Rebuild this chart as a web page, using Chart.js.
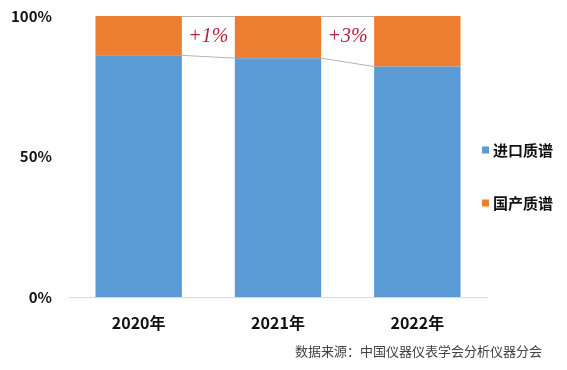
<!DOCTYPE html>
<html>
<head>
<meta charset="utf-8">
<script src="https://cdn.jsdelivr.net/npm/chart.js@4"></script>
<style>
  html, body { margin: 0; padding: 0; background: #fff; }
  #wrap { width: 567px; height: 370px; position: relative; }
</style>
</head>
<body>
<div id="wrap"><canvas id="c"></canvas></div>
<script>
const years = ["2020年", "2021年", "2022年"];
const importShare = [86, 85, 82];
const domesticShare = [14, 15, 18];
const yTicks = [0, 50, 100];
const seriesNames = ["进口质谱", "国产质谱"];
const sourceNote = "数据来源：中国仪器仪表学会分析仪器分会";

const CJK = "'Noto Sans CJK SC', 'Noto Sans', sans-serif";

// connector lines between bars + change labels, legend and source note
const decor = {
  id: "decor",
  afterDatasetsDraw(chart) {
    const ctx = chart.ctx;
    const y = chart.scales.y;
    const meta = chart.getDatasetMeta(0);
    ctx.save();
    ctx.strokeStyle = "#B4B4B4";
    ctx.lineWidth = 1;
    for (let i = 0; i < meta.data.length - 1; i++) {
      const a = meta.data[i], b = meta.data[i + 1];
      const x1 = a.x + a.width / 2, x2 = b.x - b.width / 2;
      ctx.beginPath();
      ctx.moveTo(x1, y.getPixelForValue(importShare[i]));
      ctx.lineTo(x2, y.getPixelForValue(importShare[i + 1]));
      ctx.moveTo(x1, y.getPixelForValue(100) + 0.5);
      ctx.lineTo(x2, y.getPixelForValue(100) + 0.5);
      ctx.stroke();
      const diff = importShare[i] - importShare[i + 1];
      ctx.fillStyle = "#B0243A";
      ctx.font = "italic 20px 'Liberation Serif', 'DejaVu Serif', serif";
      ctx.textAlign = "center";
      ctx.textBaseline = "middle";
      ctx.fillText("+" + diff + "%", (x1 + x2) / 2, y.getPixelForValue(92.5));
    }
    ctx.restore();
  },
  afterDraw(chart) {
    const ctx = chart.ctx;
    const area = chart.chartArea;
    const colors = chart.data.datasets.map(d => d.backgroundColor);
    ctx.save();
    ctx.font = "bold 15px " + CJK;
    ctx.textBaseline = "middle";
    ctx.textAlign = "left";
    const ys = [150, 203];
    seriesNames.forEach((name, i) => {
      ctx.fillStyle = colors[i];
      ctx.fillRect(area.right - 5, ys[i] - 3.5, 7, 7);
      ctx.fillStyle = "#111";
      ctx.fillText(name, area.right + 6, ys[i]);
    });
    ctx.font = "13px " + CJK;
    ctx.fillStyle = "#404040";
    ctx.textAlign = "right";
    ctx.fillText(sourceNote, 542, 351);
    ctx.restore();
  }
};

new Chart(document.getElementById("c"), {
  type: "bar",
  data: {
    labels: years,
    datasets: [
      { label: seriesNames[0], data: importShare, backgroundColor: "#5B9BD5" },
      { label: seriesNames[1], data: domesticShare, backgroundColor: "#ED7D31" },
    ],
  },
  options: {
    responsive: true,
    maintainAspectRatio: false,
    animation: false,
    devicePixelRatio: 1,
    layout: { padding: { top: 16, right: 80, bottom: 0, left: 0 } },
    datasets: { bar: { barPercentage: 0.62, categoryPercentage: 1 } },
    plugins: { legend: { display: false }, tooltip: { enabled: false } },
    scales: {
      x: {
        stacked: true,
        grid: { display: false, drawTicks: false },
        border: { color: "#D9D9D9" },
        ticks: { color: "#111", padding: 16, font: { family: CJK, size: 16, weight: "bold" } },
        afterFit: s => { s.height = 73; s.paddingLeft = 0; s.paddingRight = 0; },
      },
      y: {
        stacked: true,
        min: 0,
        max: 100,
        afterBuildTicks: axis => { axis.ticks = yTicks.map(v => ({ value: v })); },
        grid: { display: false, drawTicks: false },
        border: { display: false },
        ticks: {
          color: "#111",
          padding: 17,
          font: { family: CJK, size: 15, weight: "bold" },
          callback: v => v + "%",
        },
        afterFit: s => { s.width = 69; s.paddingTop = 0; s.paddingBottom = 0; },
      },
    },
  },
  plugins: [decor],
});
</script>
</body>
</html>
